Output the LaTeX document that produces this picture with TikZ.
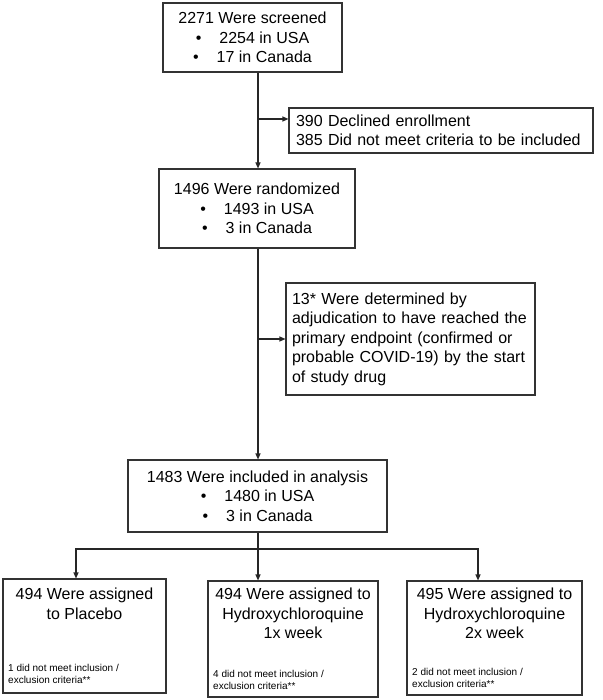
\documentclass[tikz,border=0pt]{standalone}
\usepackage{fontspec}
\setmainfont{Liberation Sans}
\usetikzlibrary{arrows.meta}
\begin{document}
\begin{tikzpicture}[x=1pt,y=-1pt,
  box/.style={draw=black!80, line width=1.1pt, inner sep=0pt, align=center,
    font=\fontsize{16}{19.5}\selectfont},
  txt/.style={inner sep=0pt, align=center, font=\fontsize{16}{19.5}\selectfont},
  small/.style={inner sep=0pt, align=left, anchor=south west, font=\fontsize{10}{12.5}\selectfont},
  conn/.style={line width=1.1pt, draw=black!85},
  arr/.style={conn, -{Triangle[length=6pt,width=5pt]}}]
\useasboundingbox (0,0) rectangle (602,700);
\newcommand{\bul}{\textbullet\hspace{18pt}}
% boxes
\node[box, minimum width=179pt, minimum height=69pt] (b1) at (252.5,37.5)
  {2271 Were screened\\ \bul 2254 in USA\\ \bul 17 in Canada};
\node[box, minimum width=304pt, minimum height=45pt, text width=290pt, inner xsep=7pt, align=left] (b2) at (441,130.5)
  {\mbox{390 Declined enrollment}\\ \mbox{385 Did not meet criteria to be included}};
\node[box, minimum width=196pt, minimum height=79pt] (b3) at (257,208.5)
  {1496 Were randomized\\ \bul 1493 in USA\\ \bul 3 in Canada};
\node[box, minimum width=249pt, minimum height=112pt, text width=237pt, inner xsep=6pt, align=left] (b4) at (410.5,339)
  {\mbox{13* Were determined by}\\ \mbox{adjudication to have reached the}\\ \mbox{primary endpoint (confirmed or}\\ \mbox{probable COVID-19) by the start}\\ \mbox{of study drug}};
\node[box, minimum width=259pt, minimum height=72pt] (b5) at (257.5,496)
  {1483 Were included in analysis\\ \bul 1480 in USA\\ \bul 3 in Canada};
\node[box, minimum width=163pt, minimum height=114pt] (ba) at (84.5,636) {};
\node[box, minimum width=170pt, minimum height=116pt] (bb) at (293,639) {};
\node[box, minimum width=175pt, minimum height=114pt] (bc) at (494.5,638) {};
% texts in bottom boxes
\node[txt, anchor=north] (ta) at (84.5,588) {494 Were assigned\\ to Placebo};
\node[txt, anchor=north] (tb) at (293,588) {494 Were assigned to\\ Hydroxychloroquine\\ 1x week};
\node[txt, anchor=north] (tc) at (494.5,588) {495 Were assigned to\\ Hydroxychloroquine\\ 2x week};
\node[small] (sa) at (8,684) {1 did not meet inclusion /\\ exclusion criteria**};
\node[small] (sb) at (213,690) {4 did not meet inclusion /\\ exclusion criteria**};
\node[small] (sc) at (412,688) {2 did not meet inclusion /\\ exclusion criteria**};
% connectors
\coordinate (j1) at (258,119);
\coordinate (j2) at (258,339);
\coordinate (j3) at (258,549);
\coordinate (la) at (76,549);
\coordinate (lc) at (478,549);
\draw[arr] (b1.south -| j1) -- (b3.north -| j1);
\draw[arr] (j1) -- (j1 -| b2.west);
\draw[arr] (b3.south -| j2) -- (b5.north -| j2);
\draw[arr] (j2) -- (j2 -| b4.west);
\draw[conn] (b5.south -| j3) -- (j3);
\draw[arr] (j3) -| (la) -- (la |- ba.north);
\draw[arr] (j3) -- (j3 |- bb.north);
\draw[arr] (j3) -| (lc) -- (lc |- bc.north);
\end{tikzpicture}
\end{document}
